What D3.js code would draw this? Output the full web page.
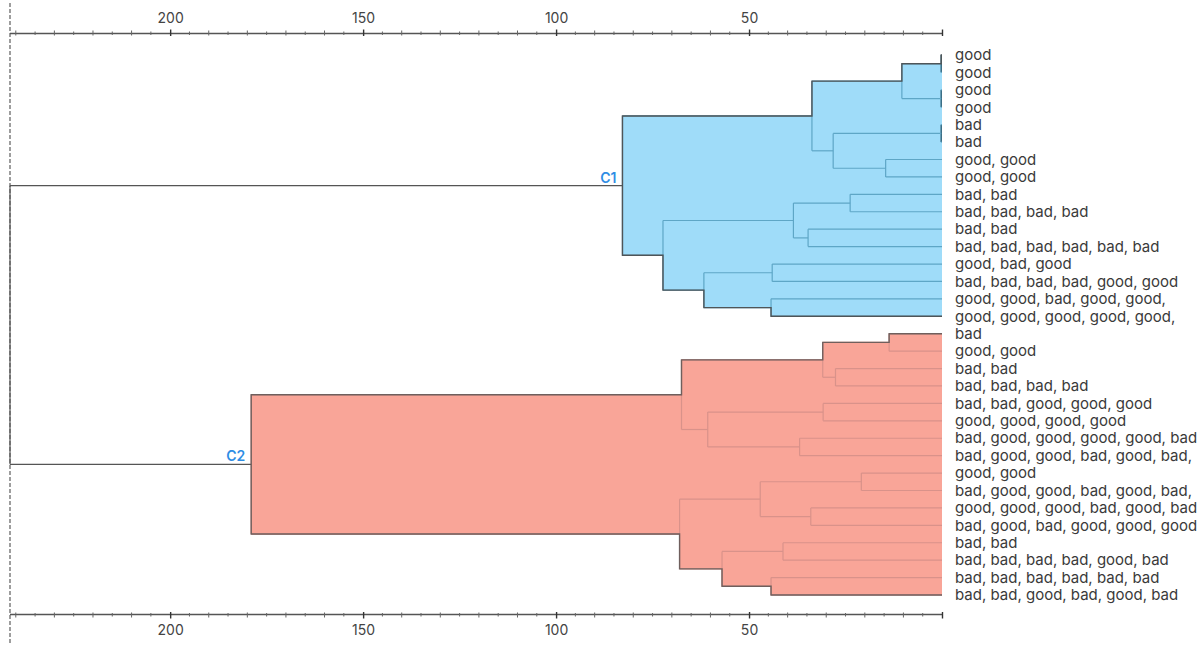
<!DOCTYPE html>
<html>
<head>
<meta charset="utf-8">
<script src="https://cdn.jsdelivr.net/npm/d3@7"></script>
<style>
    html, body { margin: 0; padding: 0; background: #fff; }
    svg { display: block; font-family: Inter, "Noto Sans", sans-serif; }
</style>
</head>
<body>
<svg id="chart" width="1200" height="652"></svg>
<script>
// leaves, top to bottom
var leafLabels = [
    "good", "good", "good", "good", "bad", "bad",
    "good, good", "good, good",
    "bad, bad", "bad, bad, bad, bad",
    "bad, bad", "bad, bad, bad, bad, bad, bad",
    "good, bad, good", "bad, bad, bad, bad, good, good",
    "good, good, bad, good, good,", "good, good, good, good, good,",
    "bad", "good, good",
    "bad, bad", "bad, bad, bad, bad",
    "bad, bad, good, good, good", "good, good, good, good",
    "bad, good, good, good, good, bad", "bad, good, good, bad, good, bad,",
    "good, good", "bad, good, good, bad, good, bad,",
    "good, good, good, bad, good, bad", "bad, good, bad, good, good, good",
    "bad, bad", "bad, bad, bad, bad, good, bad",
    "bad, bad, bad, bad, bad, bad", "bad, bad, good, bad, good, bad"
];

// linkage: [child a, child b, height]; ids >= 32 are earlier merges
var merges = [
    [0, 1, 0.2], [2, 3, 0.2], [4, 5, 0.2], [6, 7, 14.6],
    [32, 33, 10.4], [34, 35, 28.2], [36, 37, 33.7],
    [8, 9, 23.8], [10, 11, 34.7], [39, 40, 38.5],
    [12, 13, 44.0], [14, 15, 44.3], [42, 43, 61.7],
    [41, 44, 72.3], [38, 45, 82.8],
    [16, 17, 13.7], [18, 19, 27.6], [47, 48, 30.9],
    [20, 21, 30.8], [22, 23, 36.9], [50, 51, 60.7], [49, 52, 67.5],
    [24, 25, 20.9], [26, 27, 34.0], [54, 55, 47.1],
    [28, 29, 41.2], [30, 31, 44.3], [57, 58, 57.0], [56, 59, 68.0],
    [53, 60, 179.0],
    [46, 61, 241.5]
];

var clusterNames = ["C1", "C2"];
var clusterRoots = [46, 61];
var clusterFill = ["#9fdcf9", "#f9a598"];
var clusterLine = ["#5ea6c6", "#d9928a"];
var clusterEdge = ["#4f5558", "#6f5f5d"];

var axisMajor = [0, 50, 100, 150, 200];

var svg = d3.select("#chart");
var n = leafLabels.length;

var x = d3.scaleLinear().domain([0, 241.5]).range([942, 10]);
var y = d3.scaleLinear().domain([0, n - 1]).range([55, 595]);

// build nodes
var nodes = leafLabels.map(function (d, i) {
    return { id: i, leaf: true, label: d, x: x(0), y: y(i) };
});
merges.forEach(function (m, k) {
    var a = nodes[m[0]], b = nodes[m[1]];
    nodes.push({ id: n + k, leaf: false, children: [a, b], h: m[2], x: x(m[2]), y: (a.y + b.y) / 2 });
});

// which cluster each node belongs to
function mark(node, c) {
    node.cluster = c;
    if (!node.leaf) node.children.forEach(function (ch) { mark(ch, c); });
}
clusterRoots.forEach(function (r, i) { mark(nodes[r], i); });

// ---------------- cut line and axes
svg.append("line")
    .attr("x1", 10).attr("x2", 10)
    .attr("y1", 3).attr("y2", 643)
    .attr("stroke", "#6a6a6a")
    .attr("stroke-width", 1.3)
    .attr("stroke-dasharray", "4,2");

function drawAxis(yPos, top) {
    var g = svg.append("g").attr("transform", "translate(0," + yPos + ")");
    var minor = d3.range(5, 241, 5).filter(function (v) { return v % 50 !== 0; });

    g.append("line")
        .attr("x1", x.range()[1]).attr("x2", x.range()[0])
        .attr("stroke", "#555").attr("stroke-width", 1.3);

    g.selectAll(".minor").data(minor).enter().append("line")
        .attr("x1", function (d) { return x(d); })
        .attr("x2", function (d) { return x(d); })
        .attr("y1", function (d) { var s = d % 10 === 0 ? 3 : 2; return top ? -s : s; })
        .attr("y2", function (d) { var s = d % 10 === 0 ? 2 : 1.5; return top ? s : -s; })
        .attr("stroke", "#666").attr("stroke-width", 1);

    var ax = (top ? d3.axisTop(x) : d3.axisBottom(x))
        .tickValues(axisMajor)
        .tickFormat(function (d) { return d === 0 ? "" : d; })
        .tickSize(4)
        .tickPadding(7);
    var a = g.append("g").call(ax);
    a.select(".domain").remove();
    a.selectAll(".tick line")
        .attr("y1", top ? 2.5 : -2.5)
        .attr("stroke", "#333").attr("stroke-width", 1.4);
    a.selectAll(".tick text")
        .attr("fill", "#444")
        .style("font-size", "14px")
        .style("font-family", "Inter, 'Noto Sans', sans-serif");
}
drawAxis(33.5, true);
drawAxis(614.5, false);

// ---------------- cluster polygons
function chain(root, first) {
    var pick = function (nd) { return first ? nd.children[0] : nd.children[1]; };
    var pts = [[root.x, pick(root).y]];
    var m = pick(root);
    while (true) {
        pts.push([m.x, m.y]);
        if (m.leaf) break;
        pts.push([m.x, pick(m).y]);
        m = pick(m);
    }
    return pts;
}

var line = d3.line();
clusterRoots.forEach(function (r, i) {
    var root = nodes[r];
    var top = chain(root, true), bottom = chain(root, false);
    svg.append("path")
        .attr("d", line(top.concat(bottom.slice().reverse())) + "Z")
        .attr("fill", clusterFill[i]);
});

// ---------------- branches
var branches = svg.append("g").attr("fill", "none").attr("stroke-width", 1.2);
nodes.filter(function (d) { return !d.leaf; }).forEach(function (d) {
    var col = d.cluster === undefined ? "#555" : clusterLine[d.cluster];
    var a = d.children[0], b = d.children[1];
    branches.append("line")
        .attr("x1", d.x).attr("x2", d.x)
        .attr("y1", a.y).attr("y2", b.y)
        .attr("stroke", d.h < 1 ? "#3c6f86" : col)
        .attr("stroke-width", d.h < 1 ? 1.6 : 1.2);
    d.children.forEach(function (ch) {
        branches.append("line")
            .attr("x1", d.x).attr("x2", ch.x)
            .attr("y1", ch.y).attr("y2", ch.y)
            .attr("stroke", col);
    });
});

// ---------------- cluster outlines and names
clusterRoots.forEach(function (r, i) {
    var root = nodes[r];
    var top = chain(root, true), bottom = chain(root, false);
    svg.append("path")
        .attr("d", line(top.slice().reverse().concat(bottom)))
        .attr("fill", "none")
        .attr("stroke", clusterEdge[i])
        .attr("stroke-width", 1.4);

    svg.append("text")
        .attr("x", root.x - 6)
        .attr("y", root.y - 3)
        .attr("text-anchor", "end")
        .attr("fill", "#2f8de4")
        .style("font-size", "14px")
        .style("font-weight", 600)
        .text(clusterNames[i]);
});

// ---------------- leaf labels
svg.append("g").selectAll("text")
    .data(nodes.filter(function (d) { return d.leaf; }))
    .enter().append("text")
    .attr("x", 955)
    .attr("y", function (d) { return d.y; })
    .attr("dy", "0.35em")
    .attr("fill", "#3a3a3a")
    .style("font-size", "15px")
    .text(function (d) { return d.label; });
</script>
</body>
</html>
